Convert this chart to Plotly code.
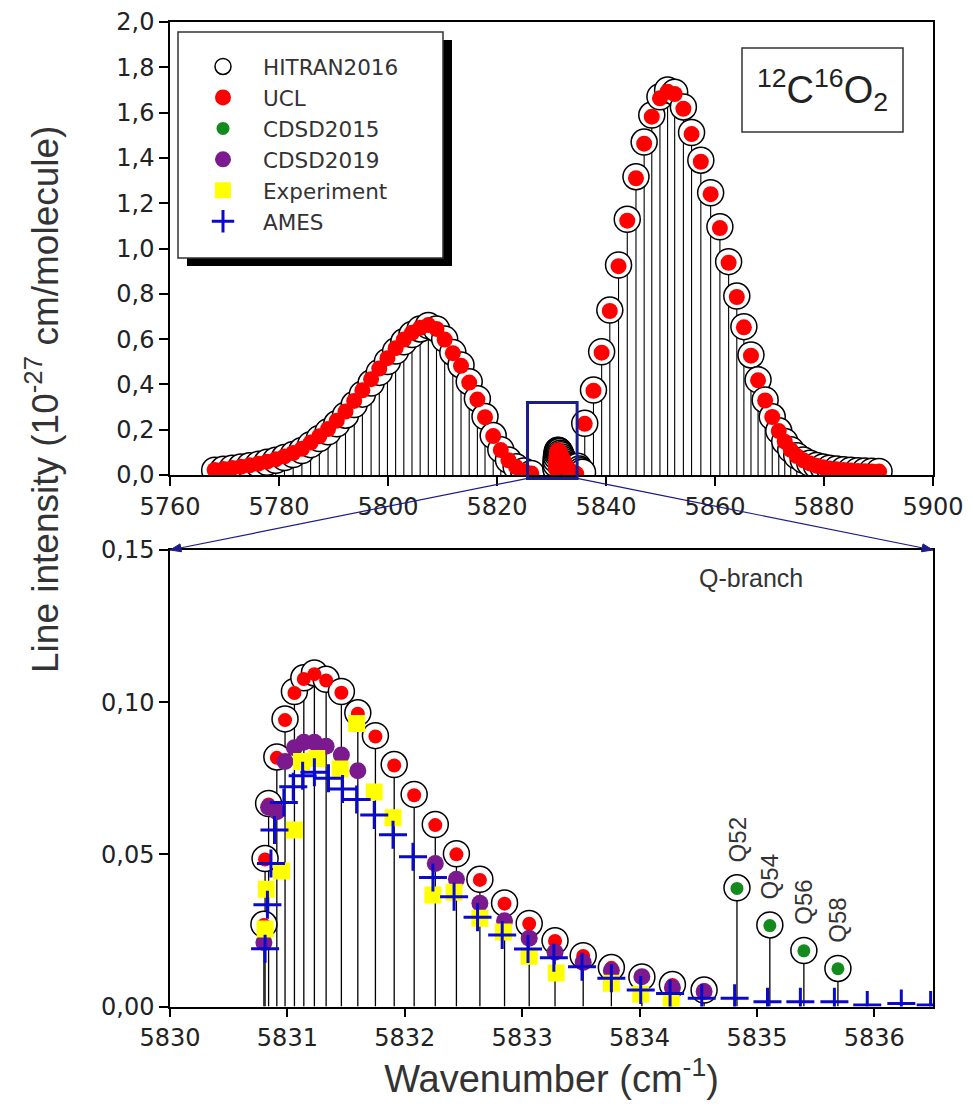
import math
import plotly.graph_objects as go

W, H = 973, 1106

# ---------------- data: overview panel (P and R branches) ----------------
p_x = [5768.2, 5769.8, 5771.4, 5773.0, 5774.6, 5776.2, 5777.8, 5779.4, 5781.0, 5782.6,
       5784.2, 5785.8, 5787.4, 5789.0, 5790.6, 5792.2, 5793.8, 5795.3, 5796.9, 5798.4,
       5799.9, 5801.4, 5802.9, 5804.4, 5805.9, 5807.4, 5808.9, 5810.4, 5811.9, 5813.4,
       5814.9, 5816.4, 5817.8, 5819.3, 5820.7, 5822.1, 5823.5, 5824.9, 5826.3]
p_hitran = [0.021, 0.025, 0.030, 0.035, 0.041, 0.047, 0.056, 0.065, 0.077, 0.090,
            0.108, 0.134, 0.161, 0.191, 0.226, 0.264, 0.311, 0.357, 0.406, 0.453,
            0.501, 0.547, 0.588, 0.620, 0.645, 0.660, 0.645, 0.600, 0.541, 0.486,
            0.412, 0.337, 0.258, 0.174, 0.112, 0.066, 0.036, 0.018, 0.007]
p_ucl = [0.022, 0.026, 0.031, 0.036, 0.043, 0.050, 0.059, 0.069, 0.082, 0.097,
         0.116, 0.143, 0.171, 0.203, 0.240, 0.280, 0.327, 0.374, 0.423, 0.470,
         0.516, 0.560, 0.598, 0.628, 0.650, 0.662, 0.645, 0.598, 0.538, 0.482,
         0.408, 0.333, 0.255, 0.172, 0.110, 0.065, 0.035, 0.018, 0.007]

r_x = [5836.1, 5837.7, 5839.2, 5840.7, 5842.3, 5843.9, 5845.5, 5847.0, 5848.4, 5849.9,
       5851.3, 5852.6, 5854.2, 5855.7, 5857.4, 5859.2, 5860.9, 5862.5, 5864.0, 5865.3,
       5866.6, 5867.9, 5869.2, 5870.5, 5871.7, 5872.8, 5873.9, 5875.0, 5876.2, 5877.4,
       5878.6, 5879.8, 5881.0, 5882.3, 5883.6, 5884.9, 5886.2, 5887.5, 5888.8, 5890.1]
r_hitran = [0.228, 0.375, 0.544, 0.728, 0.927, 1.129, 1.317, 1.470, 1.589, 1.670,
            1.700, 1.690, 1.625, 1.512, 1.390, 1.246, 1.096, 0.942, 0.790, 0.655,
            0.530, 0.420, 0.331, 0.257, 0.195, 0.148, 0.112, 0.085, 0.066, 0.052,
            0.042, 0.035, 0.030, 0.026, 0.023, 0.021, 0.019, 0.018, 0.017, 0.016]
r_ucl = [0.226, 0.372, 0.540, 0.724, 0.922, 1.123, 1.310, 1.463, 1.582, 1.663,
         1.692, 1.682, 1.617, 1.505, 1.383, 1.240, 1.090, 0.937, 0.786, 0.652,
         0.527, 0.418, 0.329, 0.256, 0.194, 0.147, 0.111, 0.084, 0.065, 0.051,
         0.041, 0.034, 0.029, 0.025, 0.022, 0.020, 0.018, 0.017, 0.016, 0.015]

# ---------------- data: Q-branch (zoom panel) ----------------
q_hitran_x = [5830.80, 5830.81, 5830.84, 5830.91, 5830.98, 5831.06, 5831.14, 5831.23, 5831.33, 5831.46,
              5831.60, 5831.75, 5831.91, 5832.08, 5832.26, 5832.44, 5832.64, 5832.85, 5833.06, 5833.28,
              5833.52, 5833.76, 5834.02, 5834.28, 5834.55, 5834.83, 5835.11, 5835.40, 5835.69]
q_hitran_y = [0.0270, 0.0486, 0.0667, 0.0820, 0.0945, 0.1035, 0.1080, 0.1096, 0.1075, 0.1035,
              0.0965, 0.0890, 0.0795, 0.0697, 0.0598, 0.0502, 0.0418, 0.0340, 0.0273, 0.0216,
              0.0167, 0.0128, 0.0097, 0.0072, 0.0054, 0.0390, 0.0268, 0.0184, 0.0125]

q_ucl_x = [5830.80, 5830.81, 5830.84, 5830.91, 5830.98, 5831.06, 5831.14, 5831.23, 5831.33, 5831.46,
           5831.60, 5831.75, 5831.91, 5832.08, 5832.26, 5832.44, 5832.64, 5832.85, 5833.06, 5833.28,
           5833.52, 5833.76, 5834.02, 5834.28, 5834.55]
q_ucl_y = [0.0268, 0.0483, 0.0664, 0.0817, 0.0941, 0.1030, 0.1076, 0.1092, 0.1071, 0.1031,
           0.0962, 0.0887, 0.0792, 0.0694, 0.0596, 0.0500, 0.0416, 0.0338, 0.0272, 0.0215,
           0.0166, 0.0127, 0.0096, 0.0071, 0.0053]

cdsd2015_x = [5834.83, 5835.11, 5835.40, 5835.69]
cdsd2015_y = [0.0388, 0.0266, 0.0183, 0.0124]
q_labels = ["Q52", "Q54", "Q56", "Q58"]

cdsd2019_x = [5830.80, 5830.84, 5830.91, 5830.98, 5831.06, 5831.14, 5831.23, 5831.33, 5831.46, 5831.60,
              5832.26, 5832.44, 5832.64, 5832.85, 5833.06, 5833.28, 5833.52, 5833.76, 5834.02, 5834.28,
              5834.55]
cdsd2019_y = [0.0210, 0.0655, 0.0640, 0.0805, 0.0850, 0.0868, 0.0868, 0.0855, 0.0826, 0.0775,
              0.0470, 0.0418, 0.0339, 0.0282, 0.0224, 0.0178, 0.0145, 0.0118, 0.0098, 0.0062,
              0.0049]

exp_x = [5830.81, 5830.82, 5830.95, 5831.06, 5831.12, 5831.25, 5831.45, 5831.59, 5831.74, 5831.90,
         5832.24, 5832.42, 5832.64, 5832.84, 5833.06, 5833.29, 5833.76, 5834.01, 5834.27]
exp_y = [0.0255, 0.0385, 0.0445, 0.0580, 0.0805, 0.0815, 0.0780, 0.0930, 0.0705, 0.0620,
         0.0366, 0.0375, 0.0290, 0.0245, 0.0165, 0.0110, 0.0076, 0.0040, 0.0016]

ames_x = [5830.81, 5830.83, 5830.86, 5830.89, 5830.97, 5831.05, 5831.13, 5831.23, 5831.35, 5831.47,
          5831.59, 5831.74, 5831.90, 5832.07, 5832.24, 5832.42, 5832.62, 5832.83, 5833.05, 5833.27,
          5833.51, 5833.76, 5834.01, 5834.26, 5834.53, 5834.81, 5835.09, 5835.37, 5835.66, 5835.94,
          5836.23, 5836.48]
ames_y = [0.0190, 0.0334, 0.0470, 0.0580, 0.0670, 0.0722, 0.0758, 0.0770, 0.0750, 0.0715,
          0.0680, 0.0629, 0.0564, 0.0492, 0.0424, 0.0361, 0.0293, 0.0235, 0.0189, 0.0160,
          0.0131, 0.0093, 0.0054, 0.0043, 0.0027, 0.0027, 0.0016, 0.0016, 0.0016, 0.0005,
          0.0010, 0.0005]

# ---------------- axes / ticks ----------------
top_xrange = [5760, 5900]
top_yrange = [0, 2.0]
bot_xrange = [5830, 5836.5]
bot_yrange = [0, 0.15]
top_xticks = [5760, 5780, 5800, 5820, 5840, 5860, 5880, 5900]
top_yticks = [0.0, 0.2, 0.4, 0.6, 0.8, 1.0, 1.2, 1.4, 1.6, 1.8, 2.0]
top_yticktext = ["0,0", "0,2", "0,4", "0,6", "0,8", "1,0", "1,2", "1,4", "1,6", "1,8", "2,0"]
bot_xticks = [5830, 5831, 5832, 5833, 5834, 5835, 5836]
bot_yticks = [0.0, 0.05, 0.10, 0.15]
bot_yticktext = ["0,00", "0,05", "0,10", "0,15"]

zoom_box_x = [5825.6, 5834.7]
zoom_box_y = [-0.015, 0.32]

# layout geometry (pixels in the 973x1106 page)
x_dom = [170 / W, 933 / W]
top_dom = [1 - 475 / H, 1 - 22 / H]
bot_dom = [1 - 1006.5 / H, 1 - 550 / H]

NAVY = "#1c1c8a"
TICKFONT = dict(family="DejaVu Sans", size=24, color="#222")
TITLEFONT = "Liberation Sans"


def sticks(xs, ys):
    sx, sy = [], []
    for x, y in zip(xs, ys):
        sx += [x, x, None]
        sy += [0, y, None]
    return sx, sy


def to_paper(x, y, ydom, xr, yr):
    px = x_dom[0] + (x - xr[0]) / (xr[1] - xr[0]) * (x_dom[1] - x_dom[0])
    py = ydom[0] + (y - yr[0]) / (yr[1] - yr[0]) * (ydom[1] - ydom[0])
    return px, py


hitran_marker = dict(symbol="circle", size=26, color="white", line=dict(color="black", width=1.5))

fig = go.Figure()

# ---- top panel ----
top_x = p_x + q_hitran_x + r_x
top_y = p_hitran + q_hitran_y + r_hitran
top_ucl_x = p_x + q_ucl_x + r_x
top_ucl_y = p_ucl + q_ucl_y + r_ucl
sx, sy = sticks(top_x, top_y)
fig.add_trace(go.Scatter(x=sx, y=sy, mode="lines", line=dict(color="black", width=1.1),
                         showlegend=False, hoverinfo="skip", xaxis="x", yaxis="y"))
fig.add_trace(go.Scatter(x=top_x, y=top_y, mode="markers", name="HITRAN2016",
                         marker=hitran_marker, xaxis="x", yaxis="y"))
fig.add_trace(go.Scatter(x=top_ucl_x, y=top_ucl_y, mode="markers", name="UCL",
                         marker=dict(symbol="circle", size=16, color="#ff0000"), xaxis="x", yaxis="y"))

# ---- bottom panel ----
sx, sy = sticks(q_hitran_x, q_hitran_y)
fig.add_trace(go.Scatter(x=sx, y=sy, mode="lines", line=dict(color="black", width=1.3),
                         showlegend=False, hoverinfo="skip", xaxis="x2", yaxis="y2"))
fig.add_trace(go.Scatter(x=q_hitran_x, y=q_hitran_y, mode="markers", name="HITRAN2016",
                         showlegend=False, marker=hitran_marker, xaxis="x2", yaxis="y2"))
fig.add_trace(go.Scatter(x=q_ucl_x, y=q_ucl_y, mode="markers", name="UCL", showlegend=False,
                         marker=dict(symbol="circle", size=14, color="#ff0000"), xaxis="x2", yaxis="y2"))
fig.add_trace(go.Scatter(x=cdsd2015_x, y=cdsd2015_y, mode="markers", name="CDSD2015",
                         marker=dict(symbol="circle", size=13, color="#138a1c"), xaxis="x2", yaxis="y2"))
fig.add_trace(go.Scatter(x=cdsd2019_x, y=cdsd2019_y, mode="markers", name="CDSD2019",
                         marker=dict(symbol="circle", size=17, color="#7b1a8e"), xaxis="x2", yaxis="y2"))
fig.add_trace(go.Scatter(x=exp_x, y=exp_y, mode="markers", name="Experiment",
                         marker=dict(symbol="square", size=17, color="#ffff00"), xaxis="x2", yaxis="y2"))
fig.add_trace(go.Scatter(x=ames_x, y=ames_y, mode="markers", name="AMES",
                         marker=dict(symbol="cross-thin", size=20, color="#0a0acc",
                                     line=dict(color="#0a0acc", width=3)), xaxis="x2", yaxis="y2"))

axis_common = dict(showline=True, linecolor="black", linewidth=1.5, mirror=True, showgrid=False,
                   zeroline=False, ticks="outside", ticklen=9, tickwidth=1.5, tickcolor="black",
                   tickfont=TICKFONT, automargin=False)

fig.update_layout(
    width=W, height=H, margin=dict(l=0, r=0, t=0, b=0, autoexpand=False),
    paper_bgcolor="white", plot_bgcolor="white",
    xaxis=dict(domain=x_dom, range=top_xrange, tickvals=top_xticks, anchor="y", **axis_common),
    yaxis=dict(domain=top_dom, range=top_yrange, tickvals=top_yticks, ticktext=top_yticktext,
               anchor="x", **axis_common),
    xaxis2=dict(domain=x_dom, range=bot_xrange, tickvals=bot_xticks, anchor="y2",
                title=dict(text="Wavenumber (cm<sup>-1</sup>)",
                           font=dict(family=TITLEFONT, size=38, color="#333"), standoff=10),
                **axis_common),
    yaxis2=dict(domain=bot_dom, range=bot_yrange, tickvals=bot_yticks, ticktext=bot_yticktext,
                anchor="x2", **axis_common),
    showlegend=True,
    legend=dict(x=183 / W, y=1 - 46 / H, xanchor="left", yanchor="top",
                bgcolor="rgba(0,0,0,0)", borderwidth=0, itemsizing="trace", itemwidth=70,
                font=dict(family="DejaVu Sans", size=21.5, color="#333"), traceorder="normal"),
)

shapes = []
# legend shadow and frame
shapes.append(dict(type="rect", xref="paper", yref="paper", x0=187 / W, x1=452 / W,
                   y0=1 - 266 / H, y1=1 - 40 / H, fillcolor="black", line=dict(width=0), layer="above"))
shapes.append(dict(type="rect", xref="paper", yref="paper", x0=178 / W, x1=443 / W,
                   y0=1 - 258 / H, y1=1 - 32 / H, fillcolor="white",
                   line=dict(color="#333", width=1.5), layer="above"))
# molecule label frame
shapes.append(dict(type="rect", xref="paper", yref="paper", x0=742 / W, x1=903 / W,
                   y0=1 - 132 / H, y1=1 - 48 / H, fillcolor="white",
                   line=dict(color="#333", width=1.5), layer="above"))
# zoom window
zx0, zy0 = to_paper(zoom_box_x[0], zoom_box_y[0], top_dom, top_xrange, top_yrange)
zx1, zy1 = to_paper(zoom_box_x[1], zoom_box_y[1], top_dom, top_xrange, top_yrange)
shapes.append(dict(type="rect", xref="paper", yref="paper", x0=zx0, x1=zx1, y0=zy0, y1=zy1,
                   line=dict(color=NAVY, width=3), fillcolor="rgba(0,0,0,0)", layer="above"))

# connector lines (with arrowheads) from the zoom window to the zoom panel corners
for tail_x, head_x in [(zoom_box_x[0], bot_xrange[0]), (zoom_box_x[1], bot_xrange[1])]:
    tx, ty = to_paper(tail_x, zoom_box_y[0], top_dom, top_xrange, top_yrange)
    hx, hy = to_paper(head_x, bot_yrange[1], bot_dom, bot_xrange, bot_yrange)
    shapes.append(dict(type="line", xref="paper", yref="paper", x0=tx, y0=ty, x1=hx, y1=hy,
                       line=dict(color=NAVY, width=1.2), layer="above"))
    # arrowhead computed in pixel space
    dx, dy = (hx - tx) * W, (hy - ty) * H
    n = math.hypot(dx, dy)
    ux, uy = dx / n, dy / n
    L, w = 11, 4
    bx, by = hx * W - L * ux, hy * H - L * uy
    p1 = (bx - w * uy, by + w * ux)
    p2 = (bx + w * uy, by - w * ux)
    path = "M {:.5f} {:.5f} L {:.5f} {:.5f} L {:.5f} {:.5f} Z".format(
        hx, hy, p1[0] / W, p1[1] / H, p2[0] / W, p2[1] / H)
    shapes.append(dict(type="path", xref="paper", yref="paper", path=path,
                       fillcolor=NAVY, line=dict(color=NAVY, width=1), layer="above"))
fig.update_layout(shapes=shapes)

annotations = []
# y-axis title
annotations.append(dict(x=42 / W, y=1 - 400 / H, xref="paper", yref="paper",
                        xanchor="center", yanchor="middle",
                        text="Line intensity (10<sup>-27</sup> cm/molecule)", textangle=-90,
                        showarrow=False, font=dict(family=TITLEFONT, size=37, color="#333")))
# molecule label
annotations.append(dict(x=822 / W, y=1 - 90 / H, xref="paper", yref="paper",
                        xanchor="center", yanchor="middle",
                        text="<sup>12</sup>C<sup>16</sup>O<sub>2</sub>", showarrow=False,
                        font=dict(family=TITLEFONT, size=38, color="#222")))
# Q-branch label
annotations.append(dict(x=5834.95, y=0.1408, xref="x2", yref="y2", text="Q-branch",
                        xanchor="center", yanchor="middle",
                        showarrow=False, font=dict(family=TITLEFONT, size=25, color="#333")))
# line labels
for lx, ly, lt in zip(cdsd2015_x, cdsd2015_y, q_labels):
    annotations.append(dict(x=lx, y=ly, xref="x2", yref="y2", text=lt, textangle=-90,
                            xanchor="center", yanchor="middle",
                            showarrow=False, yshift=49,
                            font=dict(family=TITLEFONT, size=24, color="#333")))
fig.update_layout(annotations=annotations)

fig.write_html("out.html")
